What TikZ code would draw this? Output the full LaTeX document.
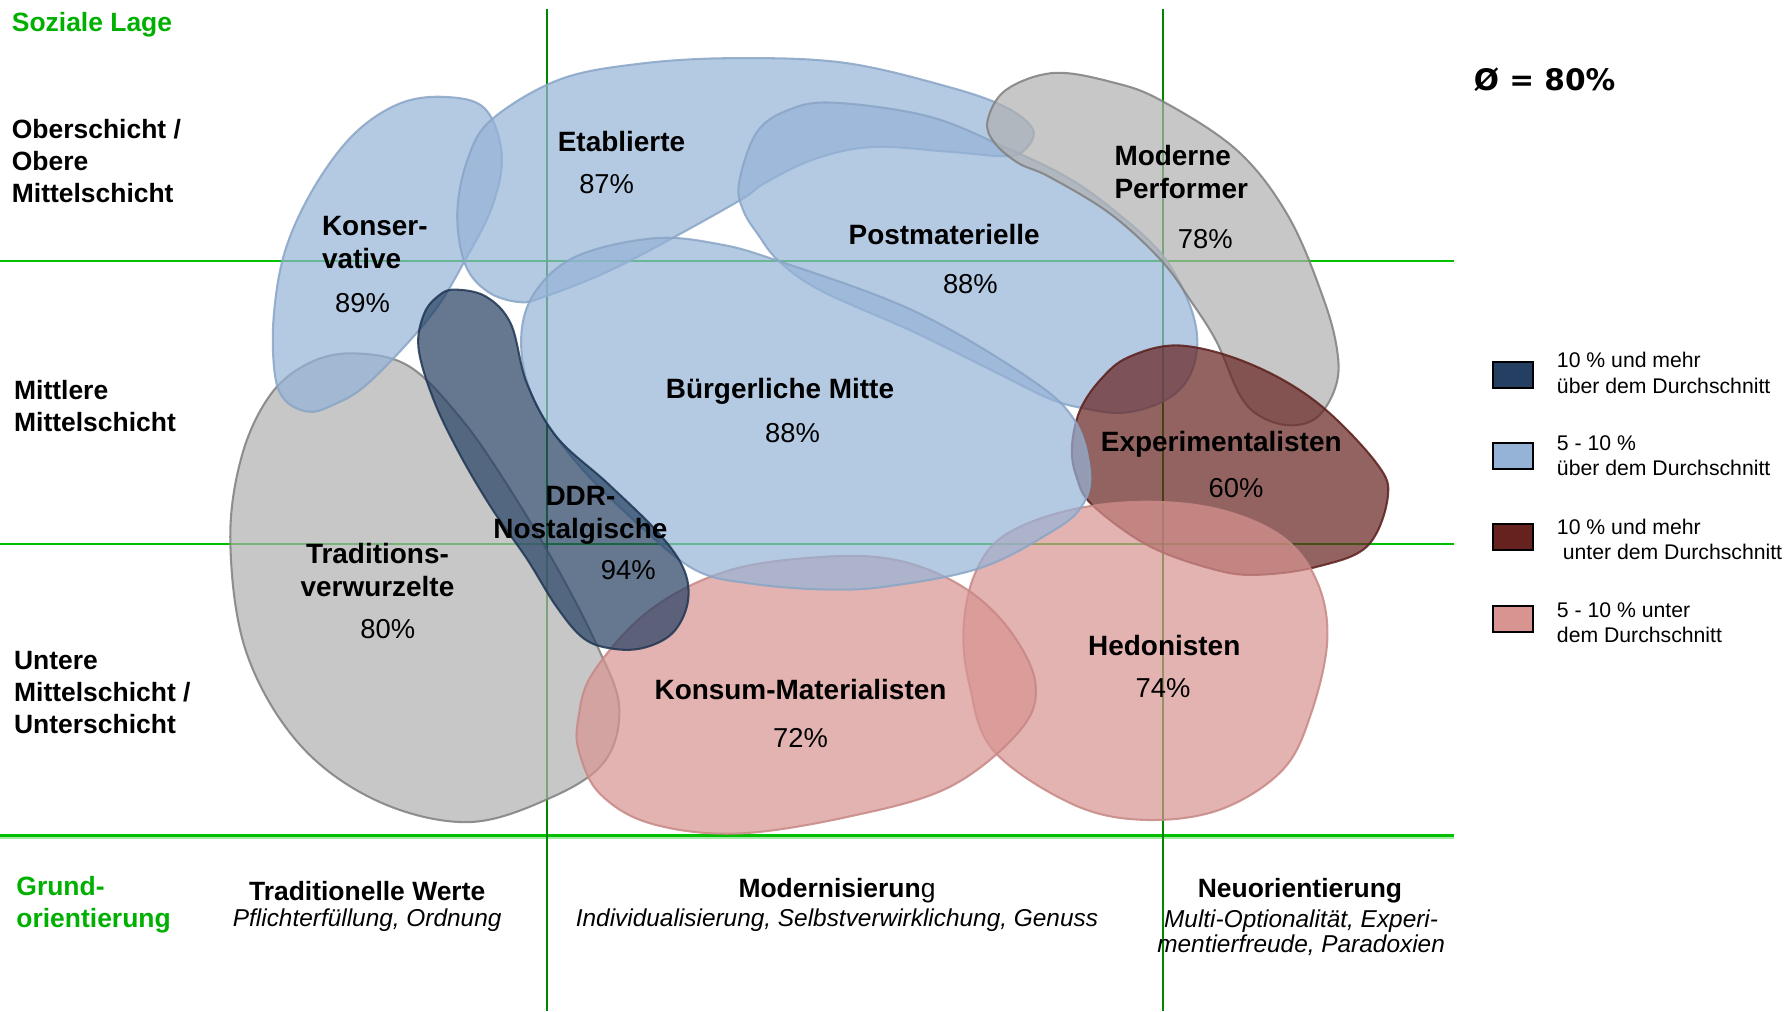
\documentclass[tikz,border=0pt]{standalone}
\usepackage{fontspec}
\setmainfont{Liberation Sans}
\newfontfamily\dejavu{DejaVu Sans}
\definecolor{lagegruen}{HTML}{00B000}
\definecolor{achsgruen}{HTML}{00C000}
\definecolor{senkgruen}{HTML}{008800}
\definecolor{hellblau}{HTML}{95B3D7}
\definecolor{dunkelblau}{HTML}{243F62}
\definecolor{grau}{HTML}{B0B0B0}
\definecolor{dunkelrot}{HTML}{66221F}
\definecolor{rosa}{HTML}{D89491}
\tikzset{
  milieu/.style={line width=0.9pt, fill opacity=0.7, draw opacity=0.85},
  blau/.style={milieu, fill=hellblau, draw=hellblau!92!black},
  grauton/.style={milieu, fill=grau, draw=black!50},
  ddr/.style={milieu, fill=dunkelblau, draw=dunkelblau!85!black},
  rot/.style={milieu, fill=dunkelrot, draw=dunkelrot!90!black},
  rosaton/.style={milieu, fill=rosa, draw=rosa!92!black},
  gitter/.style={achsgruen, line width=0.9pt},
  senk/.style={senkgruen, line width=0.8pt},
  gruppe/.style={font=\bfseries\fontsize{12.25}{14.5}\selectfont, align=center, inner sep=0pt},
  wert/.style={font=\fontsize{12}{14}\selectfont, inner sep=0pt},
  lage/.style={font=\bfseries\fontsize{11.6}{14}\selectfont, align=left, anchor=west, inner sep=0pt},
  werte/.style={font=\bfseries\fontsize{11.6}{14}\selectfont, inner sep=0pt},
  kursiv/.style={font=\itshape\fontsize{10.7}{11}\selectfont, align=center, inner sep=0pt},
  feld/.style={draw=black, line width=1pt, minimum width=17.5pt, minimum height=11.5pt, inner sep=0pt},
  legtext/.style={font=\fontsize{9.3}{11}\selectfont, align=left, anchor=west, inner sep=0pt}
}
\begin{document}
\begin{tikzpicture}[x=0.5pt,y=-0.5pt]
\fill[white] (0,0) rectangle (1568,887);
\useasboundingbox (0,0) rectangle (1568,887);

\coordinate (h1-l) at (0,229);   \coordinate (h1-r) at (1275,229);
\coordinate (h2-l) at (0,477);   \coordinate (h2-r) at (1275,477);
\coordinate (h3-l) at (0,733);   \coordinate (h3-r) at (1275,733);
\coordinate (v1-o) at (480,8);   \coordinate (v1-u) at (480,887);
\coordinate (v2-o) at (1020,8);  \coordinate (v2-u) at (1020,887);
\draw[gitter] (h1-l) -- (h1-r);
\draw[gitter] (h2-l) -- (h2-r);
\draw[achsgruen!35, line width=1pt] ([yshift=-1.1pt]h3-l) -- ([yshift=-1.1pt]h3-r);
\draw[achsgruen, line width=1.4pt] (h3-l) -- (h3-r);
\draw[senk] (v1-o) -- (v1-u);
\draw[senk] (v2-o) -- (v2-u);

\draw[grauton] plot[smooth cycle, tension=0.6] coordinates {(314,310) (360,322) (405,368) (444,424) (488,497) (524,567) (543,620) (530,668) (482,700) (410,721) (330,702) (262,652) (216,572) (202,476) (212,400) (238,345) (274,317)};
\draw[blau] plot[smooth cycle, tension=0.6] coordinates {(390,85) (425,95) (440,135) (432,180) (408,228) (377,278) (323,336) (290,356) (270,361) (250,351) (241,328) (240,278) (250,220) (275,165) (310,118) (350,91)};
\draw[blau] plot[smooth cycle, tension=0.6] coordinates {(401,187) (410,140) (431,105) (490,70) (560,56) (643,51) (740,55) (831,76) (882,94) (906,114) (898,132) (881,137) (831,133) (764,129) (713,140) (670,161) (650,175) (582,213) (529,240) (478,260) (456,265) (428,256) (408,232)};
\draw[blau] plot[smooth cycle, tension=0.6] coordinates {(648,161) (663,117) (690,97) (730,90) (814,102) (881,129) (935,155) (975,183) (1018,222) (1042,264) (1050,300) (1042,332) (1020,352) (985,362) (950,358) (921,350) (880,330) (801,291) (720,255) (683,229) (665,206) (652,185)};
\draw[grauton] plot[smooth cycle, tension=0.6] coordinates {(924,64) (975,72) (1018,88) (1085,132) (1130,190) (1161,263) (1173,310) (1171,340) (1155,366) (1131,373) (1105,365) (1087,346) (1067,300) (1045,265) (1018,228) (973,187) (920,155) (893,143) (872,125) (866,106) (882,79)};
\draw[rot] plot[smooth cycle, tension=0.6] coordinates {(1035,303) (1096,319) (1155,353) (1207,406) (1217,436) (1199,479) (1155,497) (1105,504) (1067,500) (1008,479) (958,443) (944,418) (940,392) (947,360) (965,333) (990,313)};
\draw[rosaton] plot[smooth cycle, tension=0.6] coordinates {(1003,440) (1070,447) (1125,471) (1155,510) (1164,561) (1150,625) (1125,675) (1070,710) (1003,719) (940,705) (871,658) (850,600) (845,550) (855,503) (880,470) (935,448)};
\draw[rosaton] plot[smooth cycle, tension=0.6] coordinates {(728,488) (790,492) (845,515) (885,552) (908,599) (895,640) (833,690) (745,716) (646,731) (570,722) (526,696) (508,660) (507,631) (520,590) (570,535) (640,500)};
\draw[blau] plot[smooth cycle, tension=0.6] coordinates {(457,300) (468,258) (505,225) (573,209) (630,214) (683,229) (800,272) (900,330) (942,368) (956,415) (948,445) (921,467) (860,498) (780,514) (725,517) (660,512) (610,500) (560,460) (505,405) (468,350)};
\draw[ddr] plot[smooth cycle, tension=0.6] coordinates {(399,254) (426,260) (448,284) (462,336) (488,383) (533,424) (578,468) (600,500) (603,529) (590,555) (565,568) (538,569) (512,560) (488,532) (462,490) (432,447) (403,398) (380,350) (367,305) (372,275) (385,259)};

\node[lage, text=lagegruen] (soziale) at (10,22) {Soziale Lage};
\node[lage] (oberschicht) at (10,141) {Oberschicht /\\Obere\\Mittelschicht};
\node[lage] (mittlere) at (12,356) {Mittlere\\Mittelschicht};
\node[lage] (untere) at (12,607) {Untere\\Mittelschicht /\\Unterschicht};
\node[lage, text=lagegruen] (grund) at (14,793) {Grund-\\orientierung};

\node[gruppe, align=left, anchor=west] (kons) at (282,213) {Konser-\\vative};
\node[wert] (kons-p) at (318,266) {89\%};
\node[gruppe] (etab) at (545,124) {Etablierte};
\node[wert] (etab-p) at (532,161) {87\%};
\node[gruppe] (post) at (828,206) {Postmaterielle};
\node[wert] (post-p) at (851,249) {88\%};
\node[gruppe, align=left, anchor=west] (perf) at (977,151) {Moderne\\Performer};
\node[wert] (perf-p) at (1057,210) {78\%};
\node[gruppe] (buerg) at (684,343) {Bürgerliche Mitte};
\node[wert] (buerg-p) at (695,380) {88\%};
\node[gruppe] (expe) at (1071,390) {Experimentalisten};
\node[wert] (expe-p) at (1084,428) {60\%};
\node[gruppe] (ddr) at (509,452) {DDR-\\Nostalgische};
\node[wert] (ddr-p) at (551,500) {94\%};
\node[gruppe] (trad) at (331,500) {Traditions-\\verwurzelte};
\node[wert] (trad-p) at (340,552) {80\%};
\node[gruppe] (kons-m) at (702,605) {Konsum-Materialisten};
\node[wert] (kons-m-p) at (702,647) {72\%};
\node[gruppe] (hedo) at (1021,566) {Hedonisten};
\node[wert] (hedo-p) at (1020,603) {74\%};

\node[werte] (tradw) at (322,781) {Traditionelle Werte};
\node[kursiv] (tradw-k) at (322,807) {Pflichterfüllung, Ordnung};
\node[werte] (modern) at (734,781) {{\bfseries Modernisierun}\mdseries g};
\node[kursiv] (modern-k) at (734,807) {Individualisierung, Selbstverwirklichung, Genuss};
\node[werte] (neu) at (1140,781) {Neuorientierung};
\node[kursiv] (neu-k) at (1141,818) {Multi-Optionalität, Experi-\\mentierfreude, Paradoxien};

\node[font=\dejavu\bfseries\fontsize{13}{15}\selectfont, anchor=west, inner sep=0pt] (schnitt) at (1292,70) {Ø = 80\%};

\node[feld, fill=dunkelblau] (feld1) at (1327,329) {};
\node[feld, fill=hellblau] (feld2) at (1327,400) {};
\node[feld, fill=dunkelrot] (feld3) at (1327,471) {};
\node[feld, fill=rosa] (feld4) at (1327,543) {};
\node[legtext] (leg1) at (1365,327) {10 \% und mehr\\über dem Durchschnitt};
\node[legtext] (leg2) at (1365,400) {5 - 10 \%\\über dem Durchschnitt};
\node[legtext] (leg3) at (1365,473) {10 \% und mehr\\\ unter dem Durchschnitt};
\node[legtext] (leg4) at (1365,546) {5 - 10 \% unter\\dem Durchschnitt};
\end{tikzpicture}
\end{document}
